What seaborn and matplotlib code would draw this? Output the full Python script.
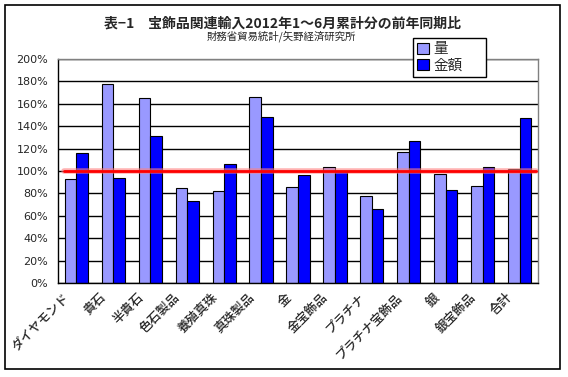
import matplotlib
matplotlib.use("Agg")
import matplotlib.pyplot as plt
import matplotlib.transforms as mtransforms
from matplotlib.patches import Rectangle, Patch
import numpy as np
import pandas as pd
import seaborn as sns

# data (percent of same period last year)
items = ["ダイヤモンド", "貴石", "半貴石", "色石製品", "養殖真珠", "真珠製品", "金",
         "金宝飾品", "プラチナ", "プラチナ宝飾品", "銀", "銀宝飾品", "合計"]
volume = [93, 178, 165, 85, 82, 166, 86, 104, 78, 117, 97, 87, 102]
amount = [116, 94, 131, 73, 106, 148, 96, 100, 66, 127, 83, 104, 147]
series = ["量", "金額"]
colors = ["#9999FF", "#0000FF"]
y_ticks = [0, 20, 40, 60, 80, 100, 120, 140, 160, 180, 200]
baseline = 100

title = "表−1　宝飾品関連輸入2012年1〜6月累計分の前年同期比"
subtitle = "財務省貿易統計/矢野経済研究所"

sns.set_theme(style="white")
plt.rcParams["font.family"] = ["Noto Sans CJK JP", "DejaVu Sans"]

df = pd.DataFrame({
    "品目": items * 2,
    "値": volume + amount,
    "系列": [series[0]] * len(items) + [series[1]] * len(items),
})

W, H = 568, 377
fig = plt.figure(figsize=(W / 100, H / 100), dpi=100)
fig.patch.set_facecolor("white")
ax = fig.add_axes([58 / W, 1 - 283 / H, 480 / W, 224 / H])

sns.barplot(data=df, x="品目", y="値", hue="系列", order=items, hue_order=series,
            palette=colors, width=0.63, edgecolor="black", linewidth=0.8,
            saturation=1, ax=ax, zorder=2)

ax.set_ylim(0, 200)
ax.set_xlim(-0.5, len(items) - 0.5)
ax.set_yticks(y_ticks)
ax.set_yticklabels([f"{v}%" for v in y_ticks], fontsize=8, family="DejaVu Sans")
ax.set_axisbelow(True)
ax.yaxis.grid(True, color="black", linewidth=1)
ax.xaxis.grid(False)
ax.set_xlabel("")
ax.set_ylabel("")

for side in ["top", "right"]:
    ax.spines[side].set_color("#808080")
    ax.spines[side].set_linewidth(1)
for side in ["left", "bottom"]:
    ax.spines[side].set_color("black")
    ax.spines[side].set_linewidth(1)

ax.tick_params(axis="y", direction="out", length=3, width=1, color="black", pad=4)
ax.tick_params(axis="x", which="major", length=0, pad=9)
ax.set_xticks(np.arange(-0.5, len(items)), minor=True)
ax.tick_params(axis="x", which="minor", direction="in", length=3, width=1, color="black")

# rotated category labels
shift = mtransforms.ScaledTranslation(-9 / 100, 0, fig.dpi_scale_trans)
ax.set_xticks(range(len(items)))
ax.set_xticklabels(items, rotation=45, ha="right", va="center",
                   rotation_mode="anchor", fontsize=9, fontweight="medium")
for lbl in ax.get_xticklabels():
    lbl.set_transform(lbl.get_transform() + shift)

# 100% reference line
ax.axhline(baseline, xmin=0.0125, xmax=0.996, color="#FF8080", linewidth=4, alpha=0.6, zorder=4)
ax.axhline(baseline, xmin=0.0125, xmax=0.996, color="#FF0000", linewidth=2, zorder=5)

# legend
handles = [Patch(facecolor=c, edgecolor="black", linewidth=0.8) for c in colors]
leg = ax.legend(handles, series, loc="upper left", bbox_to_anchor=(413 / W, 1 - 76 / H, 73 / W, 38 / H),
                bbox_transform=fig.transFigure, mode="expand", fontsize=10.5,
                frameon=True, fancybox=False, borderpad=0.3, handlelength=0.8, handleheight=0.8,
                handletextpad=0.3, labelspacing=0.15, borderaxespad=0)
leg.get_frame().set_edgecolor("black")
leg.get_frame().set_linewidth(1)
leg.get_frame().set_facecolor("white")
leg.get_frame().set_alpha(1)
leg.set_zorder(10)

fig.text(282 / W, 1 - 23.5 / H, title, ha="center", va="center", fontsize=10, fontweight="bold")
fig.text(281.5 / W, 1 - 36 / H, subtitle, ha="center", va="center", fontsize=7.5)

# outer frame
fig.patches.append(Rectangle((5 / W, 1 - 369 / H), 555 / W, 364 / H, transform=fig.transFigure,
                             fill=False, edgecolor="black", linewidth=1.2, zorder=0))

fig.savefig("out.png", dpi=100)
plt.close()
